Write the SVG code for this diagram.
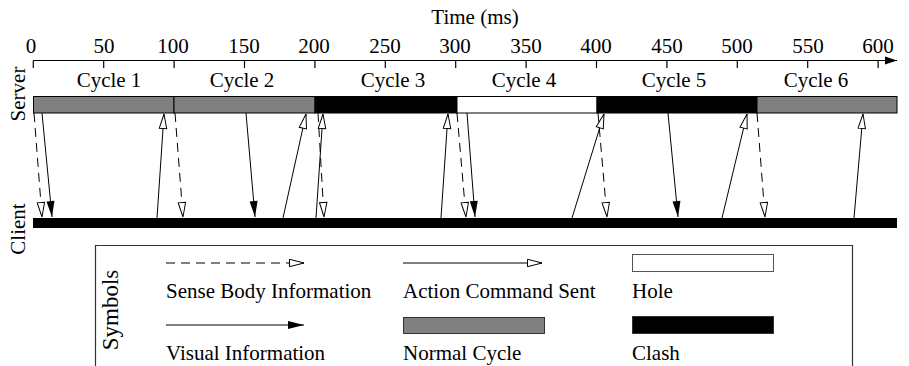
<svg xmlns="http://www.w3.org/2000/svg" width="909" height="366" viewBox="0 0 909 366" font-family="'Liberation Serif', 'Times New Roman', serif">
<style>
text{font-family:'Liberation Serif','Times New Roman',serif;font-size:21px;fill:#000}
.c{text-anchor:middle}
.tick{stroke:#000;stroke-width:1.2}
.sb{stroke:#000;stroke-width:1;stroke-dasharray:9 6;fill:none;marker-end:url(#open)}
.vi{stroke:#000;stroke-width:1;fill:none;marker-end:url(#filled)}
.ac{stroke:#000;stroke-width:1;fill:none;marker-end:url(#open)}
.seg{stroke:#000;stroke-width:1}
</style>
<defs>
<marker id="open" markerUnits="userSpaceOnUse" markerWidth="18" markerHeight="10" refX="15" refY="4" orient="auto" overflow="visible">
<path d="M0.5,0.3 L15,4 L0.5,7.7 Z" fill="#fff" stroke="#000" stroke-width="1"/>
</marker>
<marker id="filled" markerUnits="userSpaceOnUse" markerWidth="18" markerHeight="10" refX="16" refY="4" orient="auto" overflow="visible">
<path d="M0,0 L16,4 L0,8 Z" fill="#000"/>
</marker>
<marker id="axhead" markerUnits="userSpaceOnUse" markerWidth="14" markerHeight="10" refX="12" refY="4" orient="auto" overflow="visible">
<path d="M0,0 L12,4 L0,8 Z" fill="#000"/>
</marker>
</defs>

<g id="axis">
<text class="c" x="475" y="24">Time (ms)</text>
<line x1="33.3" y1="60.5" x2="897" y2="60.5" stroke="#000" stroke-width="1.2" marker-end="url(#axhead)"/>
<g class="tick">
<line x1="33.3" y1="60.5" x2="33.3" y2="68"/>
<line x1="103.7" y1="60.5" x2="103.7" y2="68"/>
<line x1="174.1" y1="60.5" x2="174.1" y2="68"/>
<line x1="244.5" y1="60.5" x2="244.5" y2="68"/>
<line x1="314.9" y1="60.5" x2="314.9" y2="68"/>
<line x1="385.3" y1="60.5" x2="385.3" y2="68"/>
<line x1="455.7" y1="60.5" x2="455.7" y2="68"/>
<line x1="526.1" y1="60.5" x2="526.1" y2="68"/>
<line x1="596.5" y1="60.5" x2="596.5" y2="68"/>
<line x1="666.9" y1="60.5" x2="666.9" y2="68"/>
<line x1="737.3" y1="60.5" x2="737.3" y2="68"/>
<line x1="807.7" y1="60.5" x2="807.7" y2="68"/>
<line x1="878.1" y1="60.5" x2="878.1" y2="68"/>
</g>
<text class="c" x="31" y="53">0</text>
<text class="c" x="104" y="53">50</text>
<text class="c" x="173" y="53">100</text>
<text class="c" x="244" y="53">150</text>
<text class="c" x="314" y="53">200</text>
<text class="c" x="385" y="53">250</text>
<text class="c" x="455" y="53">300</text>
<text class="c" x="526" y="53">350</text>
<text class="c" x="596" y="53">400</text>
<text class="c" x="667" y="53">450</text>
<text class="c" x="737" y="53">500</text>
<text class="c" x="808" y="53">550</text>
<text class="c" x="878" y="53">600</text>
</g>

<g id="cycle-labels">
<text class="c" x="109" y="87">Cycle 1</text>
<text class="c" x="242" y="87">Cycle 2</text>
<text class="c" x="393" y="87">Cycle 3</text>
<text class="c" x="524" y="87">Cycle 4</text>
<text class="c" x="674" y="87">Cycle 5</text>
<text class="c" x="816" y="87">Cycle 6</text>
</g>

<g id="server">
<text class="c" transform="translate(25,94) rotate(-90)">Server</text>
<rect class="seg" x="33.5" y="96.5" width="140.5" height="16.5" fill="#808080"/>
<rect class="seg" x="174" y="96.5" width="141" height="16.5" fill="#808080"/>
<rect class="seg" x="315" y="96.5" width="142" height="16.5" fill="#000"/>
<rect class="seg" x="457" y="96.5" width="140" height="16.5" fill="#fff"/>
<rect class="seg" x="597" y="96.5" width="160" height="16.5" fill="#000"/>
<rect class="seg" x="757" y="96.5" width="140" height="16.5" fill="#808080"/>
</g>

<g id="client">
<text class="c" transform="translate(25,229) rotate(-90)">Client</text>
<rect x="33" y="218" width="864" height="10" fill="#000"/>
</g>

<g id="connectors">
<line class="sb" x1="34" y1="113" x2="42" y2="217"/>
<line class="sb" x1="175" y1="113" x2="183" y2="217"/>
<line class="sb" x1="318" y1="113" x2="324" y2="217"/>
<line class="sb" x1="457" y1="113" x2="466" y2="217"/>
<line class="sb" x1="598" y1="113" x2="607" y2="217"/>
<line class="sb" x1="757" y1="113" x2="765" y2="217"/>
<line class="vi" x1="42" y1="113" x2="52" y2="217"/>
<line class="vi" x1="246" y1="113" x2="255" y2="217"/>
<line class="vi" x1="467" y1="113" x2="475" y2="217"/>
<line class="vi" x1="668" y1="113" x2="678" y2="217"/>
<line class="ac" x1="157" y1="218" x2="164" y2="114"/>
<line class="ac" x1="283" y1="218" x2="306" y2="114"/>
<line class="ac" x1="316" y1="218" x2="323" y2="114"/>
<line class="ac" x1="441" y1="218" x2="448" y2="114"/>
<line class="ac" x1="572" y1="218" x2="604" y2="114"/>
<line class="ac" x1="722" y1="218" x2="747" y2="114"/>
<line class="ac" x1="854" y1="218" x2="863" y2="114"/>
</g>

<g id="legend">
<path d="M95.5,366 V245.5 H852.5 V366" fill="none" stroke="#333" stroke-width="1.2"/>
<text class="c" style="font-size:23px" transform="translate(118,310) rotate(-90)">Symbols</text>
<line class="sb" x1="166" y1="263" x2="304" y2="263"/>
<text x="166" y="298">Sense Body Information</text>
<line class="vi" x1="166" y1="325" x2="304" y2="325"/>
<text x="166" y="360">Visual Information</text>
<line class="ac" x1="403" y1="263" x2="542" y2="263"/>
<text x="403" y="298">Action Command Sent</text>
<rect x="403.5" y="317.5" width="141" height="16" fill="#808080" stroke="#333" stroke-width="1"/>
<text x="403" y="360">Normal Cycle</text>
<rect x="632.5" y="254.5" width="141" height="17" fill="#fff" stroke="#555" stroke-width="1"/>
<text x="632" y="298">Hole</text>
<rect x="632.5" y="316.5" width="141" height="17" fill="#000" stroke="#333" stroke-width="1"/>
<text x="632" y="360">Clash</text>
</g>
</svg>
